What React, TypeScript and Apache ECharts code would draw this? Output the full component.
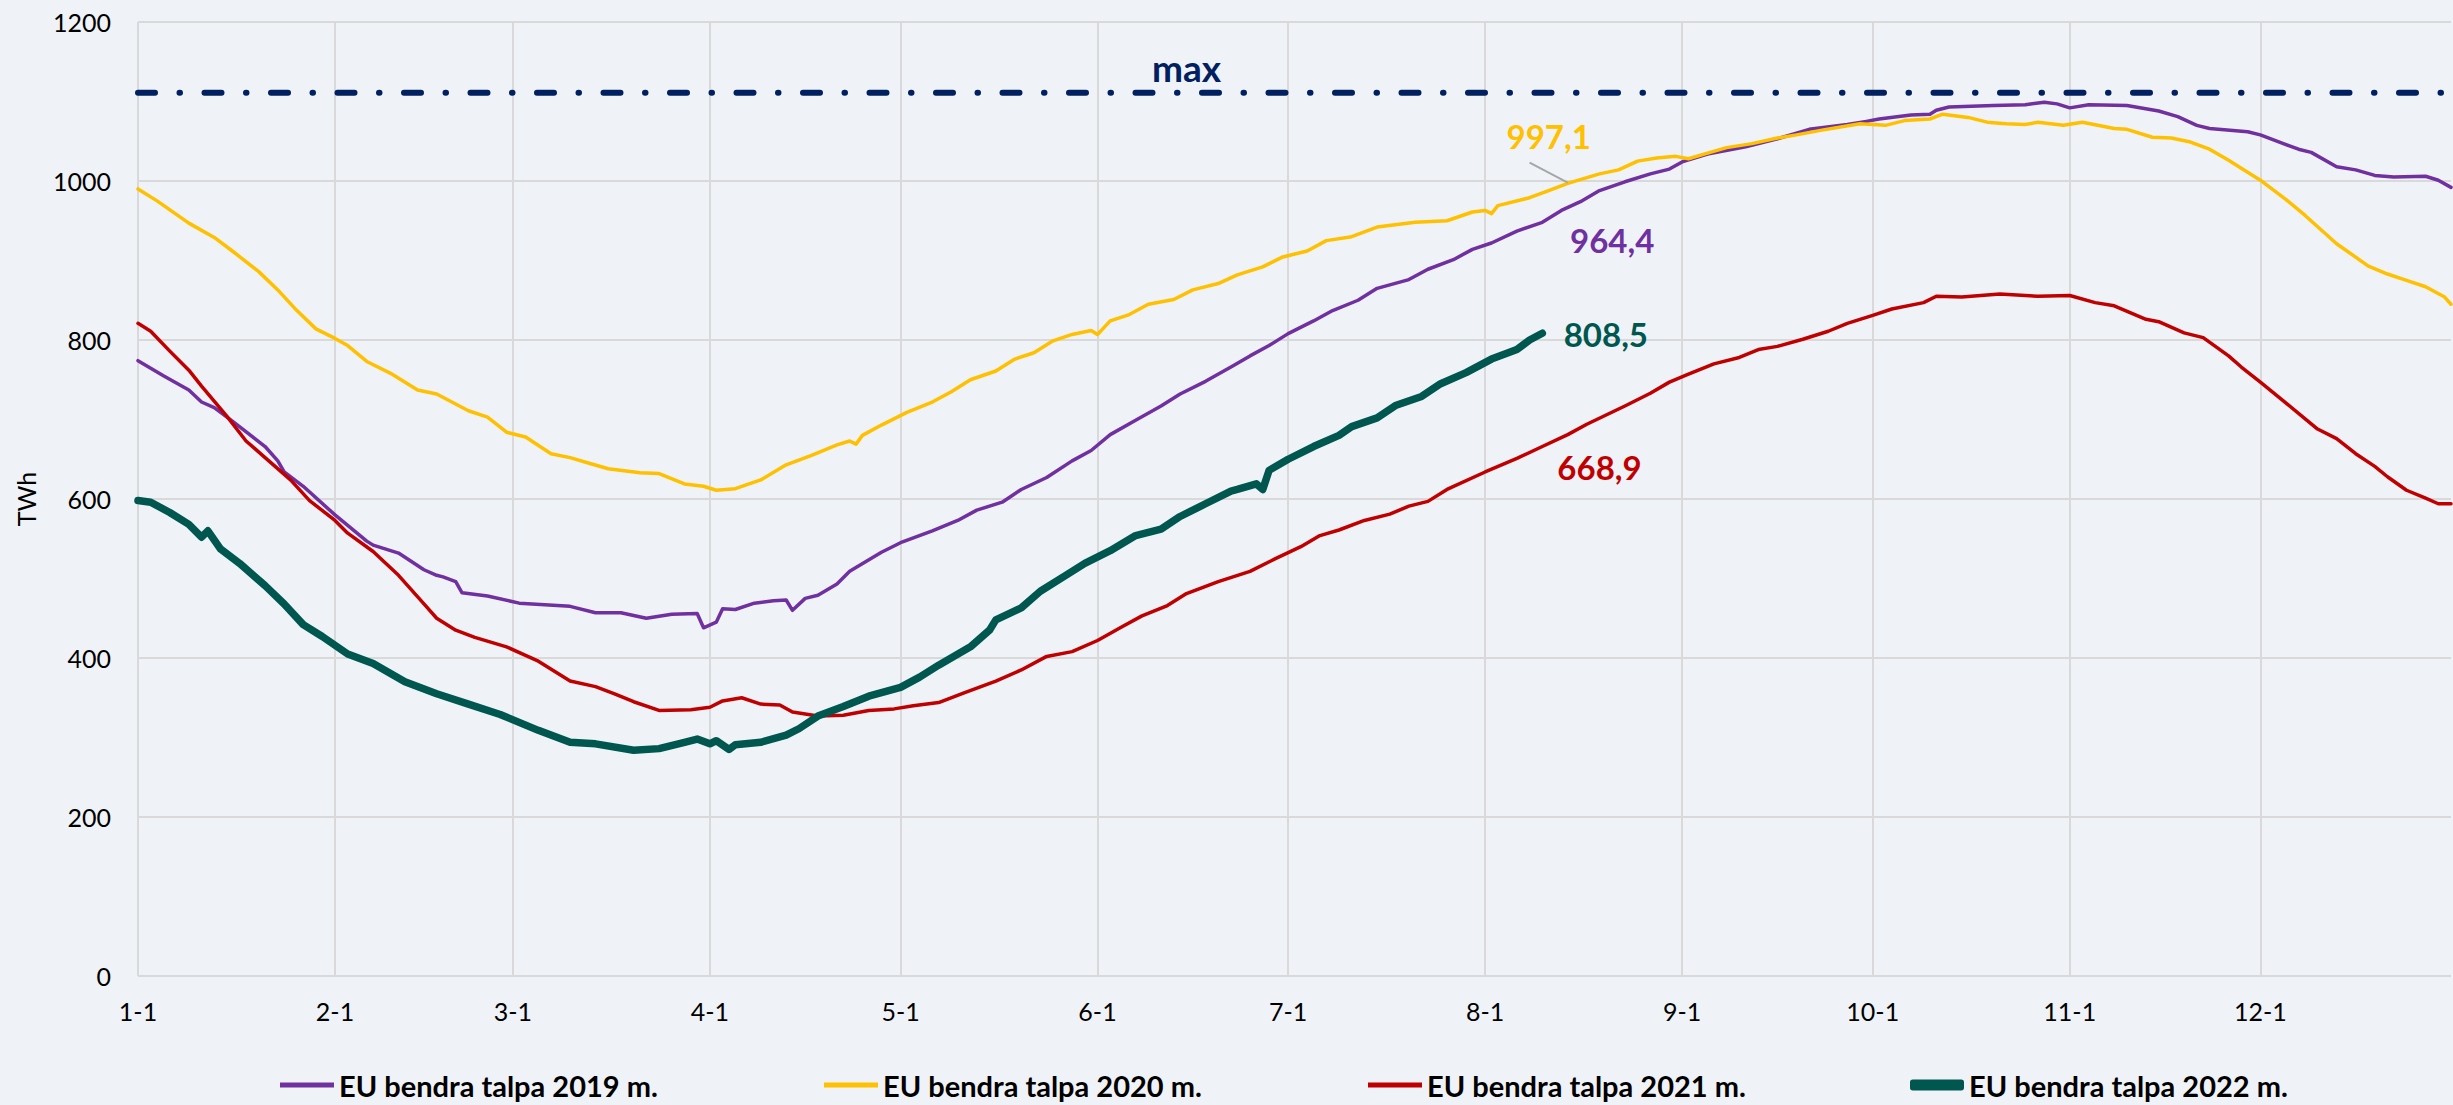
import React, { useEffect, useRef } from "react";
import * as echarts from "echarts";

// Axis ticks
const monthLabels = ["1-1", "2-1", "3-1", "4-1", "5-1", "6-1", "7-1", "8-1", "9-1", "10-1", "11-1", "12-1"];
const monthStartDays = [0, 31, 59, 90, 120, 151, 181, 212, 243, 273, 304, 334];
const dayCount = 365;
const yTicks = { min: 0, max: 1200, interval: 200 };

// Series: [day of year (0 = 1 Jan), TWh]
const storage2019: [number, number][] = [
  [0, 774], [4, 755], [8, 737], [10, 722], [12, 715], [15, 697], [20, 666], [22, 648], [23, 634], [26, 616],
  [31, 580], [36, 547], [37, 542], [41, 532], [45, 511], [47, 504], [48, 502], [50, 496], [51, 482], [55, 478],
  [60, 469], [68, 465], [72, 457], [76, 457], [80, 450], [84, 455], [88, 456], [89, 438], [91, 445], [92, 462],
  [94, 461], [97, 469], [100, 472], [102, 473], [103, 460], [105, 475], [107, 479], [110, 493], [112, 509], [117, 533],
  [120, 545], [125, 560], [129, 573], [132, 586], [136, 596], [139, 612], [143, 627], [147, 648], [150, 661], [153, 681],
  [157, 699], [161, 717], [164, 732], [168, 748], [172, 766], [175, 780], [178, 793], [181, 808], [185, 824], [188, 837],
  [192, 850], [195, 865], [200, 876], [203, 889], [207, 901], [210, 914], [213, 922], [217, 937], [221, 948], [224, 963],
  [227, 974], [230, 988], [234, 999], [238, 1009], [241, 1015], [243, 1024], [247, 1034], [253, 1043], [258, 1053], [263, 1065],
  [269, 1071], [272, 1075], [274, 1078], [279, 1083], [282, 1084], [283, 1089], [285, 1093], [292, 1095], [297, 1096], [300, 1099],
  [302, 1097], [304, 1092], [307, 1096], [313, 1095], [318, 1088], [321, 1081], [324, 1070], [326, 1066], [332, 1062], [334, 1058],
  [337, 1049], [340, 1040], [342, 1036], [346, 1018], [349, 1014], [352, 1007], [355, 1005], [360, 1006], [362, 1001], [364, 992],
];

const storage2020: [number, number][] = [
  [0, 990], [3, 975], [8, 947], [12, 929], [15, 911], [19, 886], [22, 863], [25, 837], [28, 814], [31, 802],
  [33, 793], [36, 773], [40, 757], [44, 737], [47, 732], [52, 711], [55, 703], [58, 684], [61, 678], [65, 657],
  [68, 652], [71, 645], [74, 638], [79, 633], [82, 632], [86, 619], [89, 616], [91, 611], [94, 613], [98, 624],
  [102, 643], [106, 655], [110, 668], [112, 673], [113, 669], [114, 680], [117, 693], [121, 709], [125, 722], [128, 735],
  [131, 750], [135, 761], [138, 776], [141, 784], [144, 799], [147, 807], [150, 812], [151, 807], [153, 824], [156, 832],
  [159, 845], [163, 851], [166, 863], [170, 871], [173, 882], [177, 892], [180, 904], [184, 912], [187, 925], [191, 930],
  [195, 942], [201, 948], [206, 950], [210, 961], [212, 963], [213, 959], [214, 969], [219, 979], [222, 988], [225, 997],
  [230, 1009], [233, 1014], [236, 1025], [239, 1029], [242, 1031], [244, 1028], [247, 1035], [250, 1042], [254, 1047], [258, 1054],
  [261, 1058], [265, 1064], [271, 1072], [275, 1070], [278, 1076], [282, 1078], [284, 1084], [288, 1080], [291, 1074], [294, 1072],
  [297, 1071], [299, 1074], [303, 1070], [306, 1074], [311, 1066], [313, 1065], [317, 1055], [320, 1054], [323, 1049], [326, 1040],
  [329, 1026], [334, 1001], [338, 977], [341, 957], [346, 921], [351, 893], [354, 883], [357, 875], [360, 867], [363, 854], [364, 845],
];

const storage2021: [number, number][] = [
  [0, 821], [2, 811], [5, 786], [8, 762], [10, 742], [14, 704], [17, 673], [20, 652], [24, 624], [27, 598],
  [31, 573], [33, 557], [37, 534], [41, 504], [45, 468], [47, 450], [50, 435], [53, 426], [58, 414], [63, 396],
  [68, 371], [72, 364], [75, 355], [78, 345], [82, 334], [87, 335], [90, 338], [92, 346], [95, 350], [98, 342],
  [101, 341], [103, 332], [107, 327], [111, 328], [115, 334], [119, 336], [122, 340], [126, 344], [130, 356], [135, 371],
  [139, 385], [143, 402], [147, 408], [151, 422], [155, 440], [158, 453], [162, 466], [165, 481], [170, 496], [175, 509],
  [179, 525], [183, 540], [186, 554], [189, 561], [193, 573], [197, 581], [200, 591], [203, 597], [206, 612], [212, 634],
  [217, 651], [221, 666], [225, 681], [228, 694], [234, 717], [238, 733], [241, 747], [244, 757], [248, 770], [252, 778],
  [255, 788], [258, 792], [262, 801], [266, 811], [269, 821], [273, 831], [276, 839], [281, 847], [283, 855], [287, 854],
  [293, 858], [299, 855], [304, 856], [308, 847], [311, 843], [316, 826], [318, 823], [322, 809], [325, 803], [329, 780],
  [331, 766], [334, 747], [338, 721], [343, 688], [346, 676], [349, 657], [352, 641], [354, 628], [357, 611], [360, 601],
  [362, 594], [364, 594],
];

const storage2022: [number, number][] = [
  [0, 598], [2, 596], [5, 583], [8, 568], [10, 552], [11, 560], [13, 537], [16, 519], [20, 491], [23, 468],
  [26, 442], [29, 427], [33, 405], [37, 393], [42, 370], [47, 355], [52, 342], [57, 329], [63, 309], [68, 294],
  [72, 292], [78, 284], [82, 286], [86, 294], [88, 298], [90, 292], [91, 296], [93, 285], [94, 291], [98, 294],
  [102, 303], [104, 311], [107, 327], [111, 339], [115, 352], [120, 363], [123, 376], [126, 391], [131, 414], [134, 435],
  [135, 448], [139, 463], [142, 484], [146, 504], [149, 519], [153, 535], [157, 554], [161, 562], [164, 578], [168, 594],
  [172, 610], [173, 612], [176, 619], [177, 612], [178, 636], [181, 650], [185, 666], [189, 680], [191, 691], [195, 702],
  [198, 718], [202, 729], [205, 745], [209, 759], [213, 776], [217, 788], [219, 800], [221, 808.5],
];

const maxCapacity = 1111;

const seriesNames = [
  "EU bendra talpa 2019 m.",
  "EU bendra talpa 2020 m.",
  "EU bendra talpa 2021 m.",
  "EU bendra talpa 2022 m.",
];
const colors = ["#7030A0", "#FFC000", "#C00000", "#00574F"];
const maxColor = "#002060";

// Annotation texts and their anchor in data space [day, TWh]
const valueLabels = ["964,4", "997,1", "668,9", "808,5"];
const valueLabelAnchors: [number, number][] = [[232, 926], [222, 1057], [230, 640], [231, 808]];
const leaderFrom: [number, number] = [219, 1023];
const leaderTo: [number, number] = [225, 998];
const maxLabelAnchor: [number, number] = [165, 1143];

const FONT = "Lato, 'Noto Sans', sans-serif";
const BG = "#EFF3F7";

export default function App() {
  const ref = useRef<HTMLDivElement>(null);

  useEffect(() => {
    if (!ref.current) return;
    const chart = echarts.init(ref.current, undefined, { renderer: "svg" });
    const categories = Array.from({ length: dayCount }, (_, i) => String(i));
    const isMonthStart = (i: number) => monthStartDays.indexOf(i) >= 0;
    const datasets = [storage2019, storage2020, storage2021, storage2022];
    const widths = [3.5, 3.5, 3.5, 7.5];
    const legendLefts = [280, 824, 1368, 1910];
    const iconHeights = [5, 5, 5, 11];
    const legendFont = 29;

    const lineSeries: any[] = datasets.map((data, i) => {
      const s: any = {
        name: seriesNames[i],
        type: "line",
        data,
        showSymbol: false,
        symbol: "none",
        lineStyle: { color: colors[i], width: widths[i], cap: "round", join: "round" },
        itemStyle: { color: colors[i] },
        z: 2 + i,
        markPoint: {
          symbol: "circle",
          symbolSize: 0,
          silent: true,
          data: [
            {
              coord: valueLabelAnchors[i],
              label: {
                show: true,
                position: "inside",
                formatter: valueLabels[i],
                color: colors[i],
                fontSize: 33,
                fontWeight: "bold",
                fontFamily: FONT,
              },
            },
          ],
        },
      };
      if (i === 1) {
        s.markLine = {
          silent: true,
          symbol: ["none", "none"],
          label: { show: false },
          lineStyle: { color: "#A6A6A6", width: 2, type: "solid" },
          data: [[{ coord: leaderFrom }, { coord: leaderTo }]],
        };
      }
      return s;
    });

    lineSeries.push({
      name: "max",
      type: "line",
      data: [[0, maxCapacity], [dayCount - 1, maxCapacity]],
      showSymbol: false,
      symbol: "none",
      lineStyle: { color: maxColor, width: 6, type: [17, 24.5, 0.5, 24.5], cap: "round" },
      z: 1,
      markPoint: {
        symbol: "circle",
        symbolSize: 0,
        silent: true,
        data: [
          {
            coord: maxLabelAnchor,
            label: {
              show: true,
              position: "inside",
              formatter: "max",
              color: maxColor,
              fontSize: 37,
              fontWeight: "bold",
              fontFamily: FONT,
            },
          },
        ],
      },
    });

    const legends = seriesNames.map((name, i) => ({
      show: true,
      data: [name],
      left: legendLefts[i],
      top: 1085 - legendFont / 2,
      padding: 0,
      itemWidth: 54,
      itemHeight: iconHeights[i],
      itemGap: 0,
      icon: i === 3 ? "roundRect" : "rect",
      selectedMode: false,
      textStyle: {
        fontSize: legendFont,
        fontWeight: "bold",
        color: "#000",
        fontFamily: FONT,
        lineHeight: legendFont,
      },
    }));

    chart.setOption({
      animation: false,
      backgroundColor: BG,
      textStyle: { fontFamily: FONT },
      grid: { left: 138, right: 2, top: 22, bottom: 129, containLabel: false },
      legend: legends,
      xAxis: {
        type: "category",
        data: categories,
        boundaryGap: false,
        axisLine: { show: false },
        axisTick: { show: false },
        axisLabel: {
          interval: (index: number) => isMonthStart(index),
          formatter: (_v: string, index: number) => monthLabels[monthStartDays.indexOf(index)] ?? "",
          fontSize: 25,
          color: "#000",
          fontFamily: FONT,
          margin: 22,
        },
        splitLine: {
          show: true,
          interval: (index: number) => isMonthStart(index),
          lineStyle: { color: "#D9D9D9", width: 2 },
        },
      },
      yAxis: {
        type: "value",
        min: yTicks.min,
        max: yTicks.max,
        interval: yTicks.interval,
        name: "TWh",
        nameLocation: "middle",
        nameRotate: 90,
        nameGap: 100,
        nameTextStyle: { fontSize: 25, color: "#000", fontFamily: FONT },
        axisLine: { show: false },
        axisTick: { show: false },
        axisLabel: {
          fontSize: 25,
          color: "#000",
          fontFamily: FONT,
          margin: 27,
          formatter: (v: number) => String(v),
        },
        splitLine: { show: true, lineStyle: { color: "#D9D9D9", width: 2 } },
      },
      series: lineSeries,
    });

    return () => chart.dispose();
  }, []);

  return (
    <div
      ref={ref}
      style={{ position: "absolute", left: 0, top: 0, width: 2453, height: 1105, background: BG }}
    />
  );
}
